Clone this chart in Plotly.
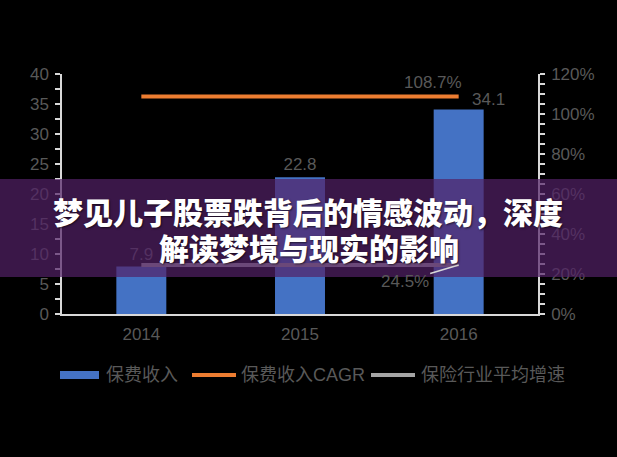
import plotly.graph_objects as go

years = ["2014", "2015", "2016"]
premium = [7.9, 22.8, 34.1]
cagr = [108.7, 108.7, 108.7]
industry = [24.5, 24.5, 24.5]

name_bar = "保费收入"
name_cagr = "保费收入CAGR"
name_ind = "保险行业平均增速"
title_lines = ["梦见儿子股票跌背后的情感波动，深度", "解读梦境与现实的影响"]

BLUE = "#4472c4"
ORANGE = "#ed7d31"
GRAY = "#a5a5a5"
TXT = "#595959"
AX = "#d9d9d9"
FONT = "Liberation Sans, Noto Sans CJK SC, sans-serif"

PL, PR, PT, PB = 62, 538, 74, 314
def px_x(p):
    return (p - PL) / (PR - PL)
def px_y(p):
    return (PB - p) / (PB - PT)

fig = go.Figure()

bar_text = [f"{v:.1f}" for v in premium[:-1]] + [" "]
fig.add_trace(go.Bar(
    x=years, y=premium, marker=dict(color=BLUE, line=dict(width=0)),
    text=bar_text, textposition="outside", cliponaxis=False,
    textfont=dict(color=TXT, size=17, family=FONT),
    showlegend=False, name=name_bar,
))
fig.add_trace(go.Scatter(x=years, y=cagr, mode="lines", name=name_cagr,
                         line=dict(color=ORANGE, width=4), yaxis="y2", showlegend=False))
fig.add_trace(go.Scatter(x=years, y=industry, mode="lines", name=name_ind,
                         line=dict(color=GRAY, width=4), yaxis="y2", showlegend=False))

# data labels (category axis annotations use the category index)
last = len(years) - 1
fig.add_annotation(x=last, y=premium[last], text=f"{premium[last]:.1f}",
                   showarrow=False, xshift=30, yshift=10,
                   font=dict(color=TXT, size=17, family=FONT))
fig.add_annotation(x=last, y=cagr[last], yref="y2", text=f"{cagr[last]:.1f}%",
                   showarrow=False, xshift=-26, yshift=14,
                   font=dict(color=TXT, size=17, family=FONT))
fig.add_annotation(x=last, y=industry[last], yref="y2", text=f"{industry[last]:.1f}%",
                   showarrow=True, arrowhead=0, arrowwidth=1.5, arrowcolor=AX,
                   ax=-54, ay=16, standoff=0,
                   font=dict(color=TXT, size=17, family=FONT))

# custom legend (swatch + label)
legend_items = [
    (name_bar, BLUE, 8, 60, 99, 104),
    (name_cagr, ORANGE, 4, 192, 236, 239),
    (name_ind, GRAY, 4, 371, 415, 419),
]
LEG_Y = 375
for label, col, w, s0, s1, tx in legend_items:
    fig.add_shape(type="line", xref="paper", yref="paper",
                  x0=px_x(s0), x1=px_x(s1), y0=px_y(LEG_Y), y1=px_y(LEG_Y),
                  line=dict(color=col, width=w))
    fig.add_annotation(xref="paper", yref="paper", x=px_x(tx), y=px_y(LEG_Y),
                       xanchor="left", yanchor="middle", text=label, showarrow=False,
                       font=dict(color=TXT, size=18, family=FONT))

# banner overlay
fig.add_shape(type="rect", xref="paper", yref="paper",
              x0=px_x(-5), x1=px_x(625), y0=px_y(277), y1=px_y(179),
              fillcolor="rgba(83,33,103,0.70)", line=dict(width=0), layer="above")
for line, (cx, cy) in zip(title_lines, [(308, 211), (309, 247)]):
    fig.add_annotation(xref="paper", yref="paper", x=px_x(cx), y=px_y(cy),
                       xanchor="center", yanchor="middle",
                       text=line, showarrow=False,
                       font=dict(color="white", size=30, family="Noto Sans CJK SC",
                                 weight=900, shadow="1px 1px 2px rgba(0,0,0,0.6)"))

fig.update_layout(
    width=617, height=457,
    margin=dict(l=PL, r=617 - PR, t=PT, b=457 - PB),
    paper_bgcolor="black", plot_bgcolor="black",
    bargap=0.685, showlegend=False,
    font=dict(family=FONT, color=TXT, size=17),
    xaxis=dict(type="category", showline=True, linecolor=AX, linewidth=2, ticks="",
               showgrid=False, tickfont=dict(size=17, color=TXT), zeroline=False,
               ticklabelstandoff=4),
    yaxis=dict(range=[0, 40], dtick=5, showline=True, linecolor=AX, linewidth=1.5,
               ticks="outside", ticklen=5, tickcolor=AX, tickwidth=1.5,
               minor=dict(dtick=2.5, ticks="outside", ticklen=5, tickcolor=AX, tickwidth=1.5),
               showgrid=False, zeroline=False, tickfont=dict(size=17, color=TXT),
               ticklabelstandoff=3),
    yaxis2=dict(range=[0, 120], dtick=20, ticksuffix="%", overlaying="y", side="right",
                showline=True, linecolor=AX, linewidth=1.5,
                ticks="outside", ticklen=5, tickcolor=AX, tickwidth=1.5,
                minor=dict(dtick=5, ticks="outside", ticklen=5, tickcolor=AX, tickwidth=1.5),
                showgrid=False, zeroline=False, tickfont=dict(size=17, color=TXT),
                ticklabelstandoff=3),
)

fig.write_html("out.html", config={"displayModeBar": False},
               post_script="document.body.style.margin='0px';document.body.style.background='black';")
